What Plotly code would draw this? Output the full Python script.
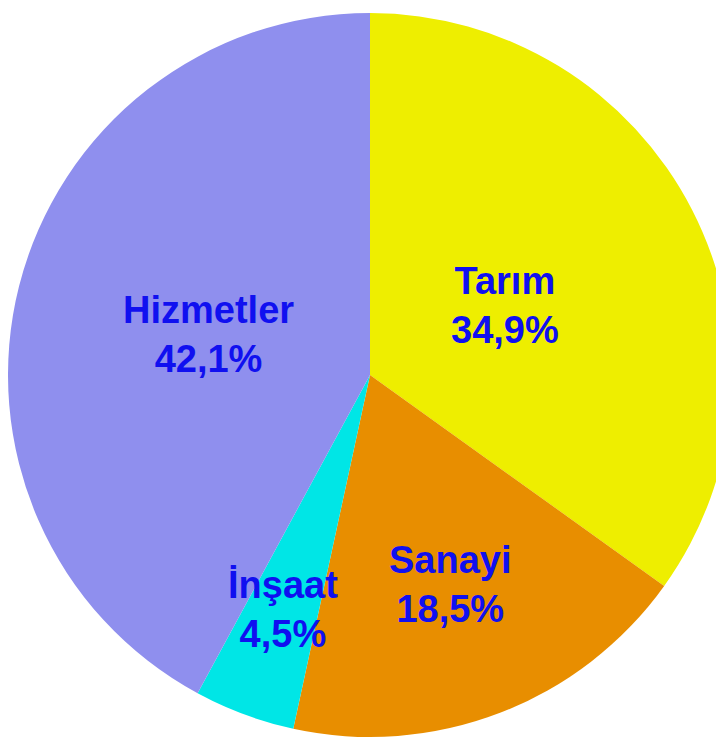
import math
import plotly.graph_objects as go

# sektörlere göre istihdam payları
sectors = ["Tarım", "Sanayi", "İnşaat", "Hizmetler"]
shares = [34.9, 18.5, 4.5, 42.1]
slice_colors = ["#eeee00", "#e88e00", "#00e6e6", "#8f8fee"]

# label distance from centre, as a fraction of the radius
label_r = [0.42, 0.62, 0.69, 0.46]

W, H = 724, 749
dom_x = [0.0, 1.0]
dom_y = [0.02, 1.0]

fig = go.Figure()
fig.add_trace(go.Pie(
    labels=sectors,
    values=shares,
    sort=False,
    direction="clockwise",
    rotation=0,
    marker=dict(colors=slice_colors, line=dict(width=0)),
    textinfo="none",
    hoverinfo="label+percent",
    showlegend=False,
    domain=dict(x=dom_x, y=dom_y),
))

# label positions from the slice mid angles
cx = (dom_x[0] + dom_x[1]) / 2 * W
cy = (dom_y[0] + dom_y[1]) / 2 * H
radius = min((dom_x[1] - dom_x[0]) * W, (dom_y[1] - dom_y[0]) * H) / 2
total = sum(shares)
cum = 0
for name, val, rf in zip(sectors, shares, label_r):
    mid = (cum + val / 2) / total * 2 * math.pi
    cum += val
    px_ = cx + rf * radius * math.sin(mid)
    py_ = cy + rf * radius * math.cos(mid)
    fig.add_annotation(
        x=px_ / W, y=py_ / H, xref="paper", yref="paper",
        xanchor="center", yanchor="middle",
        text=f"<b>{name}<br>{str(val).replace('.', ',')}%</b>",
        showarrow=False,
        font=dict(family="Liberation Sans, Arial", size=38, color="#1010f0"),
        align="center",
    )

fig.update_layout(
    width=W, height=H,
    margin=dict(l=0, r=0, t=0, b=0),
    paper_bgcolor="white",
    plot_bgcolor="white",
)

fig.write_html("out.html")
